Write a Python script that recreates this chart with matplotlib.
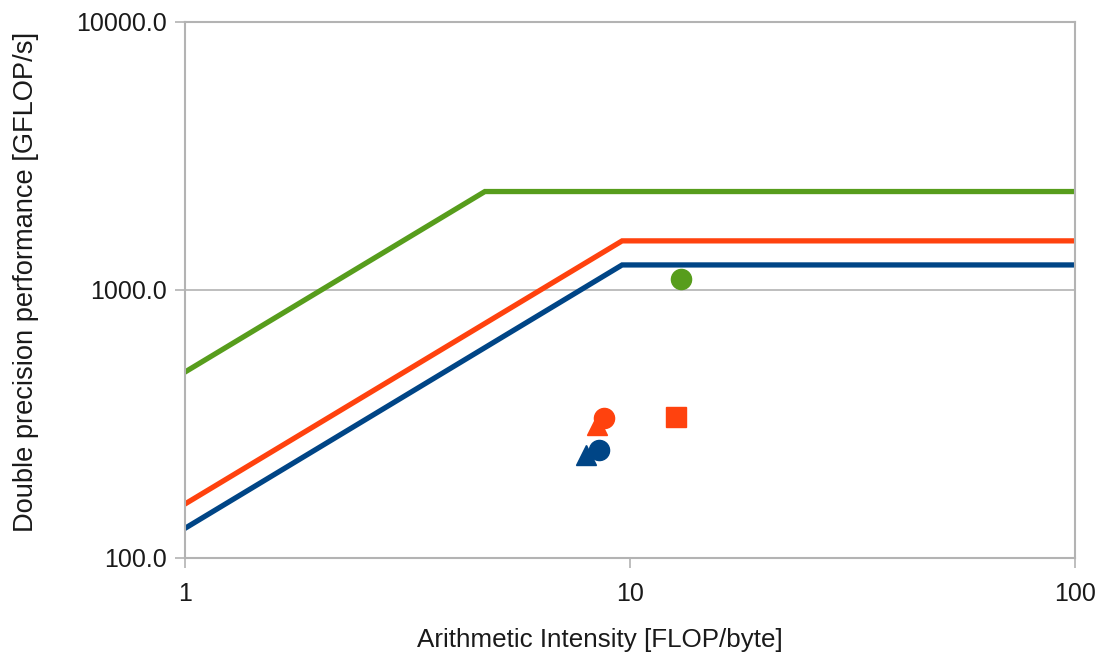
import matplotlib.pyplot as plt
from matplotlib.ticker import FixedLocator, NullLocator, FuncFormatter

plt.rcParams['font.family'] = ['Liberation Sans', 'DejaVu Sans']

# Roofline ceilings: (intensity, GFLOP/s) corner points
green_x = [1, 4.72, 100]
green_y = [494, 2330, 2330]
orange_x = [1, 9.6, 100]
orange_y = [159, 1525, 1525]
blue_x = [1, 9.6, 100]
blue_y = [129, 1240, 1240]

# Measured kernels
green_circle = (13.0, 1099)
orange_square = (12.7, 336)
orange_circle = (8.74, 333)
orange_triangle = (8.43, 313)
blue_circle = (8.52, 253)
blue_triangle = (7.96, 242)

green = '#579d1c'
orange = '#ff420e'
blue = '#004586'
grey = '#b3b3b3'

fig = plt.figure(figsize=(10.97, 6.58), dpi=100)
ax = fig.add_axes([0.1686, 0.152, 0.8114, 0.8146])

ax.plot(green_x, green_y, color=green, lw=3.8, solid_joinstyle='miter')
ax.plot(orange_x, orange_y, color=orange, lw=3.8, solid_joinstyle='miter')
ax.plot(blue_x, blue_y, color=blue, lw=3.8, solid_joinstyle='miter')

ms = 14.5
ax.plot(*orange_triangle, marker='^', color=orange, ms=ms, ls='none')
ax.plot(*blue_triangle, marker='^', color=blue, ms=ms, ls='none')
ax.plot(*orange_circle, marker='o', color=orange, ms=ms, ls='none')
ax.plot(*blue_circle, marker='o', color=blue, ms=ms, ls='none')
ax.plot(*orange_square, marker='s', color=orange, ms=ms - 0.5, ls='none')
ax.plot(*green_circle, marker='o', color=green, ms=ms, ls='none')

ax.set_xscale('log')
ax.set_yscale('log')
ax.set_xlim(1, 100)
ax.set_ylim(100, 10000)

ax.xaxis.set_major_locator(FixedLocator([1, 10, 100]))
ax.xaxis.set_minor_locator(NullLocator())
ax.xaxis.set_major_formatter(FuncFormatter(lambda v, p: f'{v:g}'))
ax.yaxis.set_major_locator(FixedLocator([100, 1000, 10000]))
ax.yaxis.set_minor_locator(NullLocator())
ax.yaxis.set_major_formatter(FuncFormatter(lambda v, p: f'{v:.1f}'))

ax.grid(axis='y', color=grey, lw=1.2)
ax.set_axisbelow(True)
for side in ax.spines.values():
    side.set_color(grey)
    side.set_linewidth(1.5)

ax.tick_params(axis='both', length=7, width=1.2, color=grey,
               labelsize=18, labelcolor='#1a1a1a', pad=6)
ax.tick_params(axis='x', pad=10)

ax.set_xlabel('Arithmetic Intensity [FLOP/byte]', fontsize=18.7,
              color='#1a1a1a', labelpad=16)
ax.set_ylabel('Double precision performance [GFLOP/s]', fontsize=19.6,
              color='#1a1a1a', labelpad=27)
# titles sit a little off the axes centre
ax.xaxis.label.set_x(0.466)
ax.yaxis.label.set_y(0.516)

fig.savefig('out.png', dpi=100)
